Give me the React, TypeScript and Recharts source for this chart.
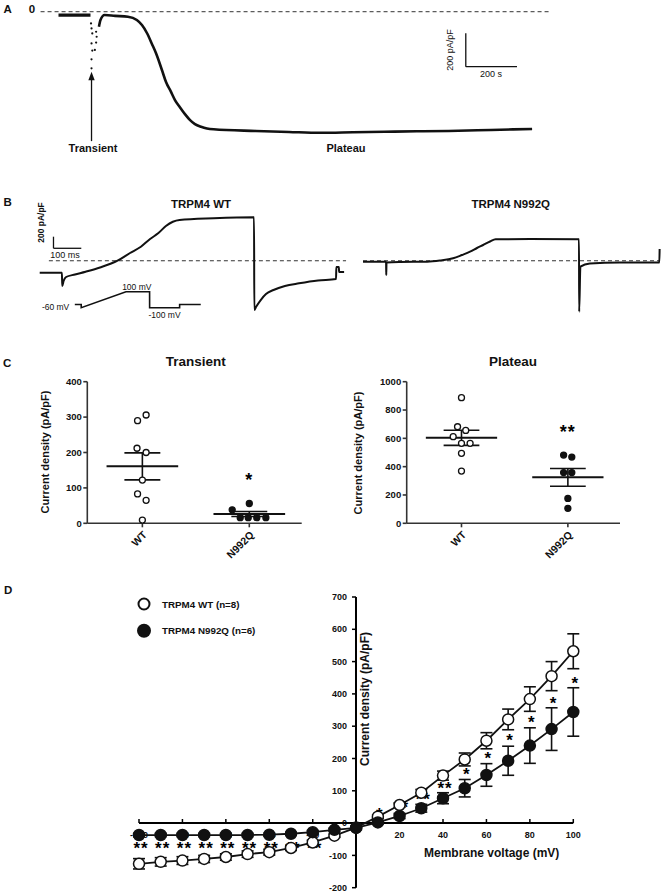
import React from "react";
import {
  ComposedChart,
  Line,
  Scatter,
  XAxis,
  YAxis,
  ReferenceLine,
  ErrorBar,
} from "recharts";

const FONT = "'Liberation Sans', Arial, Helvetica, sans-serif";
const INK = "#111";

// ---------- Panel A: current density (pA/pF) over time (s)
const aBaseline = [
  { t: 0, i: -20 },
  { t: 125, i: -20 },
];
const aTransientDots = [
  { t: 127, i: -70 },
  { t: 129, i: -100 },
  { t: 132, i: -130 },
  { t: 129, i: -190 },
  { t: 132, i: -233 },
  { t: 129, i: -285 },
  { t: 129, i: -339 },
  { t: 147, i: -120 },
  { t: 149, i: -150 },
  { t: 147, i: -185 },
  { t: 142, i: -229 },
];
const aTrace = [
  { t: 158, i: -90 },
  { t: 164, i: -50 },
  { t: 180, i: -20 },
  { t: 221, i: -25 },
  { t: 271, i: -30 },
  { t: 306, i: -50 },
  { t: 326, i: -80 },
  { t: 346, i: -129 },
  { t: 365, i: -193 },
  { t: 381, i: -249 },
  { t: 404, i: -349 },
  { t: 420, i: -421 },
  { t: 439, i: -479 },
  { t: 455, i: -529 },
  { t: 473, i: -569 },
  { t: 494, i: -613 },
  { t: 514, i: -649 },
  { t: 533, i: -673 },
  { t: 557, i: -689 },
  { t: 580, i: -699 },
  { t: 606, i: -704 },
  { t: 771, i: -714 },
  { t: 900, i: -720 },
  { t: 1023, i: -725 },
  { t: 1150, i: -722 },
  { t: 1274, i: -719 },
  { t: 1400, i: -716 },
  { t: 1524, i: -714 },
  { t: 1689, i: -708 },
  { t: 1850, i: -702 },
];
const aArrowTip = [{ t: 129, i: -359 }];

// ---------- Panel B: ramp currents (ms, pA/pF) and voltage protocol (ms, mV)
const bWtTrace = [
  { t: 0, i: -207 },
  { t: 80, i: -207 },
  { t: 81, i: -436 },
  { t: 86, i: -350 },
  { t: 95, i: -281 },
  { t: 127, i: -238 },
  { t: 165, i: -190 },
  { t: 217, i: -117 },
  { t: 280, i: 0 },
  { t: 325, i: 133 },
  { t: 364, i: 241 },
  { t: 397, i: 374 },
  { t: 426, i: 472 },
  { t: 454, i: 598 },
  { t: 479, i: 672 },
  { t: 503, i: 702 },
  { t: 626, i: 731 },
  { t: 771, i: 748 },
  { t: 772, i: -850 },
  { t: 778, i: -798 },
  { t: 795, i: -678 },
  { t: 814, i: -574 },
  { t: 841, i: -505 },
  { t: 882, i: -436 },
  { t: 933, i: -390 },
  { t: 1001, i: -341 },
  { t: 1066, i: -316 },
  { t: 1067, i: -109 },
  { t: 1076, i: -109 },
  { t: 1077, i: -195 },
  { t: 1095, i: -195 },
];
const bNqTrace = [
  { t: 0, i: -17 },
  { t: 83, i: -17 },
  { t: 83.6, i: -247 },
  { t: 84.5, i: -31 },
  { t: 133, i: -22 },
  { t: 231, i: -17 },
  { t: 277, i: 3 },
  { t: 324, i: 41 },
  { t: 356, i: 98 },
  { t: 385, i: 155 },
  { t: 410, i: 219 },
  { t: 432, i: 271 },
  { t: 457, i: 331 },
  { t: 477, i: 369 },
  { t: 601, i: 374 },
  { t: 777, i: 369 },
  { t: 777.5, i: -879 },
  { t: 782, i: -103 },
  { t: 816, i: -48 },
  { t: 924, i: -31 },
  { t: 1066, i: -31 },
  { t: 1067, i: 202 },
];
const bProtocol = [
  { t: 0, v: -60 },
  { t: 23, v: -60 },
  { t: 23.1, v: -100 },
  { t: 184, v: 100 },
  { t: 269, v: 100 },
  { t: 269.1, v: -100 },
  { t: 377, v: -100 },
  { t: 377.1, v: -60 },
  { t: 453, v: -60 },
];

// ---------- Panel C: scatter of individual cells
const groups = ["WT", "N992Q"];
const transientWT = [306, 290, 212, 200, 122, 83, 65, 9];
const transientWTJitter = [0.035, -0.045, -0.05, 0.035, 0, -0.045, 0.035, 0];
const transientNQ = [38, 56, 16, 16, 16, 16];
const transientNQJitter = [-0.16, 0, -0.085, -0.01, 0.07, 0.155];
const plateauWT = [887, 682, 656, 612, 565, 565, 494, 369];
const plateauWTJitter = [0, -0.037, 0.04, -0.078, 0, 0.081, 0, 0];
const plateauNQ = [482, 468, 358, 358, 176, 106];
const plateauNQJitter = [-0.04, 0.037, -0.04, 0.037, 0, 0];
const transientTicks = [0, 100, 200, 300, 400];
const plateauTicks = [0, 200, 400, 600, 800, 1000];

// ---------- Panel D: I-V relationship
const voltages = [-100, -90, -80, -70, -60, -50, -40, -30, -20, -10, 0, 10, 20, 30, 40, 50, 60, 70, 80, 90, 100];
const wtMean = [-126, -120, -116, -111, -105, -96, -90, -77, -60, -39, -14, 20, 56, 94, 147, 197, 255, 321, 384, 455, 532];
const wtSem = [16, 13, 12, 11, 10, 10, 9, 8, 7, 5, 3, 5, 7, 10, 14, 20, 25, 32, 38, 45, 54];
const nqMean = [-37, -37, -37, -37, -37, -37, -36, -33, -28, -21, -15, 2, 22, 46, 77, 108, 149, 193, 240, 291, 344];
const nqSem = [5, 5, 5, 5, 5, 5, 5, 5, 5, 5, 5, 5, 8, 12, 17, 27, 35, 45, 55, 66, 75];
const sigVoltages = [-100, -90, -80, -70, -60, -50, -40, -30, -20, 10, 20, 30, 40, 50, 60, 70, 80, 90, 100];
const sigLabels = ["**", "**", "**", "**", "**", "**", "**", "**", "**", "*", "**", "**", "**", "*", "*", "*", "*", "*", "*"];
const sigHeights = [-64, -64, -64, -64, -64, -64, -64, -64, -64, 41, 63, 87, 121, 165, 214, 270, 326, 384, 446];
const dXTicks = [-100, -80, -60, -40, -20, 0, 20, 40, 60, 80, 100];
const dYTicks = [-200, -100, 0, 100, 200, 300, 400, 500, 600, 700];

const dData = voltages.map((v, k) => ({
  v,
  wt: wtMean[k],
  wtErr: wtSem[k],
  nq: nqMean[k],
  nqErr: nqSem[k],
}));
const dSig = sigVoltages.map((v, k) => ({ v, y: sigHeights[k], label: sigLabels[k] }));

const mean = (a: number[]) => a.reduce((s, v) => s + v, 0) / a.length;
const sem = (a: number[]) => {
  const m = mean(a);
  const sd = Math.sqrt(a.reduce((s, v) => s + (v - m) ** 2, 0) / (a.length - 1));
  return sd / Math.sqrt(a.length);
};

const Dot = (r: number, open: boolean) => (p: any) =>
  <circle cx={p.cx} cy={p.cy} r={r} fill={open ? "#fff" : INK} stroke={INK} strokeWidth={1.3} />;

const StarText = (fs: number, dx = 0, spacing = 0) => (p: any) =>
  <text
    x={p.cx + dx}
    y={p.cy + 0.585 * fs}
    textAnchor="middle"
    fontSize={fs}
    fontWeight="bold"
    letterSpacing={spacing}
    fill="#000"
    stroke="none"
  >
    {p.payload.label}
  </text>;

// dots drawn by a stroke-less Line, so nothing else gets a symbol
const TinyDot = (p: any) =>
  <circle key={`d${p.index}`} cx={p.cx} cy={p.cy} r={1.1} fill={INK} stroke="none" />;
const ArrowHead = (p: any) =>
  <polygon key="ah" points={`${p.cx},${p.cy} ${p.cx - 3.2},${p.cy + 8.5} ${p.cx + 3.2},${p.cy + 8.5}`} fill={INK} />;

function Txt({ x, y, size, weight = "bold", anchor = "middle", rotate = false, children }: any) {
  return (
    <text
      x={x}
      y={y}
      fontSize={size}
      fontWeight={weight}
      textAnchor={anchor}
      fill={INK}
      dominantBaseline={rotate ? "central" : undefined}
      transform={rotate ? `rotate(-90 ${x} ${y})` : undefined}
    >
      {children}
    </text>
  );
}

function Box({ left, top, children }: any) {
  return <div style={{ position: "absolute", left, top }}>{children}</div>;
}

function PanelA() {
  return (
    <Box left={0} top={0}>
      <ComposedChart width={670} height={170} margin={{ top: 0, right: 0, bottom: 0, left: 0 }}>
        <XAxis dataKey="t" type="number" domain={[-228.5, 2388.7]} hide />
        <YAxis type="number" domain={[-947.9, 70.1]} hide />
        <ReferenceLine segment={[{ x: -70, y: 0 }, { x: 1924, y: 0 }]} stroke="#333" strokeDasharray="4 3" strokeWidth={1} />
        <Line data={aBaseline} dataKey="i" type="linear" stroke={INK} strokeWidth={3.3} dot={false} activeDot={false} isAnimationActive={false} />
        <Line data={aTrace} dataKey="i" type="monotone" stroke={INK} strokeWidth={2.6} dot={false} activeDot={false} isAnimationActive={false} />
        <Line data={aTransientDots} dataKey="i" type="linear" stroke="none" dot={TinyDot} activeDot={false} isAnimationActive={false} />
        <ReferenceLine segment={[{ x: 129, y: -775 }, { x: 129, y: -395 }]} stroke={INK} strokeWidth={1.3} />
        <Line data={aArrowTip} dataKey="i" stroke="none" dot={ArrowHead} activeDot={false} isAnimationActive={false} />
        <ReferenceLine segment={[{ x: 1591, y: -129 }, { x: 1591, y: -329 }]} stroke={INK} strokeWidth={1.3} />
        <ReferenceLine segment={[{ x: 1591, y: -329 }, { x: 1791, y: -329 }]} stroke={INK} strokeWidth={1.3} />
      </ComposedChart>
    </Box>
  );
}

function TraceChart({ left, width, xDomain, data, zeroEnd, scaleBar }: any) {
  return (
    <Box left={left} top={200}>
      <ComposedChart width={width} height={130} margin={{ top: 0, right: 0, bottom: 0, left: 0 }}>
        <XAxis dataKey="t" type="number" domain={xDomain} hide />
        <YAxis type="number" domain={[-1194.8, 1046.6]} hide />
        <ReferenceLine segment={[{ x: zeroEnd[0], y: 0 }, { x: zeroEnd[1], y: 0 }]} stroke="#333" strokeDasharray="4 3" strokeWidth={1.1} />
        <Line data={data} dataKey="i" type="monotone" stroke={INK} strokeWidth={2} dot={false} activeDot={false} isAnimationActive={false} />
        {scaleBar && (
          <ReferenceLine segment={[{ x: 49.6, y: 414 }, { x: 49.6, y: 214 }]} stroke={INK} strokeWidth={1.3} />
        )}
        {scaleBar && (
          <ReferenceLine segment={[{ x: 49.6, y: 214 }, { x: 149.6, y: 214 }]} stroke={INK} strokeWidth={1.3} />
        )}
      </ComposedChart>
    </Box>
  );
}

function Protocol() {
  return (
    <Box left={70} top={285}>
      <ComposedChart width={140} height={30} margin={{ top: 0, right: 0, bottom: 0, left: 0 }}>
        <XAxis dataKey="t" type="number" domain={[-17.3, 486.3]} hide />
        <YAxis type="number" domain={[-191.25, 183.75]} hide />
        <Line data={bProtocol} dataKey="v" type="linear" stroke={INK} strokeWidth={1.6} dot={false} activeDot={false} isAnimationActive={false} />
      </ComposedChart>
    </Box>
  );
}

function DotPlot({ left, width, yAxisWidth, rightMargin, yMax, ticks, wt, wtJ, nq, nqJ, sig }: any) {
  const wtPts = wt.map((y: number, k: number) => ({ x: 1 + wtJ[k], y }));
  const nqPts = nq.map((y: number, k: number) => ({ x: 2 + nqJ[k], y }));
  const bars = [wt, nq].map((vals: number[], k: number) => ({ c: k + 1, m: mean(vals), s: sem(vals) }));
  return (
    <Box left={left} top={370}>
      <ComposedChart width={width} height={200} margin={{ top: 11.7, right: rightMargin, bottom: 0, left: 0 }}>
        <XAxis
          dataKey="x"
          type="number"
          domain={[0.485, 2.49]}
          ticks={[1, 2]}
          tickFormatter={(v: number) => groups[v - 1]}
          height={46.7}
          angle={-45}
          tick={{ fontSize: 10.5, fontWeight: "bold", fill: INK, textAnchor: "end" }}
          tickSize={4}
          tickMargin={3}
          stroke="#333"
          strokeWidth={1.6}
        />
        <YAxis
          type="number"
          domain={[0, yMax]}
          ticks={ticks}
          width={yAxisWidth}
          tick={{ fontSize: 9.5, fontWeight: "bold", fill: INK }}
          tickSize={4}
          tickMargin={1.5}
          stroke="#333"
          strokeWidth={1.6}
        />
        {bars.map((b: any) => (
          <ReferenceLine key={`m${b.c}`} segment={[{ x: b.c - 0.335, y: b.m }, { x: b.c + 0.335, y: b.m }]} stroke={INK} strokeWidth={2} />
        ))}
        {bars.map((b: any) => (
          <ReferenceLine key={`s${b.c}`} segment={[{ x: b.c, y: b.m - b.s }, { x: b.c, y: b.m + b.s }]} stroke={INK} strokeWidth={1.6} />
        ))}
        {bars.map((b: any) => (
          <ReferenceLine key={`u${b.c}`} segment={[{ x: b.c - 0.168, y: b.m + b.s }, { x: b.c + 0.168, y: b.m + b.s }]} stroke={INK} strokeWidth={1.6} />
        ))}
        {bars.map((b: any) => (
          <ReferenceLine key={`l${b.c}`} segment={[{ x: b.c - 0.168, y: b.m - b.s }, { x: b.c + 0.168, y: b.m - b.s }]} stroke={INK} strokeWidth={1.6} />
        ))}
        <Scatter data={wtPts} dataKey="y" shape={Dot(3, true)} isAnimationActive={false} />
        <Scatter data={nqPts} dataKey="y" shape={Dot(3, false)} isAnimationActive={false} />
        <Scatter data={sig} dataKey="y" shape={StarText(18, 0, 1)} isAnimationActive={false} />
      </ComposedChart>
    </Box>
  );
}

const D_AXIS_Y = 10;
const DXTick = (p: any) => (
  <g>
    <line x1={p.x} x2={p.x} y1={D_AXIS_Y} y2={D_AXIS_Y - 4} stroke="#000" strokeWidth={1.5} />
    {p.payload.value !== 0 && (
      <text x={p.x} y={D_AXIS_Y + 14.6} textAnchor="middle" fontSize={9} fontWeight="bold" fill={INK}>
        {p.payload.value}
      </text>
    )}
  </g>
);

function PanelD() {
  return (
    <>
      {/* y axis through 0 mV */}
      <Box left={316} top={591.6}>
        <ComposedChart data={dData} width={50} height={300.7} margin={{ top: 5, right: 10, bottom: 5, left: 0 }}>
          <XAxis dataKey="v" type="number" domain={[-100, 100]} hide />
          <YAxis
            type="number"
            domain={[-200, 700]}
            ticks={dYTicks}
            width={40}
            tick={{ fontSize: 9, fontWeight: "bold", fill: INK }}
            tickSize={4}
            tickMargin={5}
            axisLine={{ stroke: "#000", strokeWidth: 2 }}
            tickLine={{ stroke: "#000", strokeWidth: 1.5 }}
          />
          <Line dataKey="wt" stroke="none" dot={false} activeDot={false} isAnimationActive={false} />
        </ComposedChart>
      </Box>
      {/* x axis through 0 pA/pF */}
      <Box left={119} top={812.7}>
        <ComposedChart data={dData} width={474.3} height={30} margin={{ top: 0, right: 20, bottom: 0, left: 20 }}>
          <XAxis
            dataKey="v"
            type="number"
            domain={[-100, 100]}
            ticks={dXTicks}
            height={20}
            tickLine={false}
            tick={DXTick}
            axisLine={{ stroke: "#000", strokeWidth: 2 }}
          />
          <YAxis type="number" domain={[-200, 700]} hide />
          <Line dataKey="wt" stroke="none" dot={false} activeDot={false} isAnimationActive={false} />
        </ComposedChart>
      </Box>
      {/* data */}
      <Box left={119} top={586.6}>
        <ComposedChart data={dData} width={474.3} height={310.7} margin={{ top: 10, right: 20, bottom: 10, left: 20 }}>
          <XAxis dataKey="v" type="number" domain={[-100, 100]} hide />
          <YAxis type="number" domain={[-200, 700]} hide />
          <Line dataKey="wt" type="linear" stroke={INK} strokeWidth={1.8} dot={{ r: 5.5, fill: "#fff", stroke: INK, strokeWidth: 1.5 }} activeDot={false} isAnimationActive={false}>
            <ErrorBar dataKey="wtErr" width={6} stroke={INK} strokeWidth={1.6} direction="y" />
          </Line>
          <Line dataKey="nq" type="linear" stroke={INK} strokeWidth={1.8} dot={{ r: 5.5, fill: INK, stroke: INK, strokeWidth: 1.5 }} activeDot={false} isAnimationActive={false}>
            <ErrorBar dataKey="nqErr" width={6} stroke={INK} strokeWidth={1.6} direction="y" />
          </Line>
          <Scatter data={dSig} dataKey="y" shape={StarText(17, 2, 1)} isAnimationActive={false} />
        </ComposedChart>
      </Box>
    </>
  );
}

export default function App() {
  return (
    <div
      style={{
        position: "absolute",
        left: 0,
        top: 0,
        width: 670,
        height: 893,
        background: "#fff",
        fontFamily: FONT,
        overflow: "hidden",
      }}
    >
      <PanelA />
      <TraceChart left={0} width={350} xDomain={[-142.8, 1116.2]} data={bWtTrace} zeroEnd={[33, 1102]} scaleBar />
      <TraceChart left={350} width={320} xDomain={[-46.8, 1104.3]} data={bNqTrace} zeroEnd={[0, 1068]} />
      <Protocol />
      <DotPlot
        left={20}
        width={295}
        yAxisWidth={67.3}
        rightMargin={13.3}
        yMax={400}
        ticks={transientTicks}
        wt={transientWT}
        wtJ={transientWTJitter}
        nq={transientNQ}
        nqJ={transientNQJitter}
        sig={[{ x: 2, y: 134, label: "*" }]}
      />
      <DotPlot
        left={340}
        width={290}
        yAxisWidth={66.7}
        rightMargin={10}
        yMax={1000}
        ticks={plateauTicks}
        wt={plateauWT}
        wtJ={plateauWTJitter}
        nq={plateauNQ}
        nqJ={plateauNQJitter}
        sig={[{ x: 2, y: 680, label: "**" }]}
      />
      <PanelD />
      <svg width={670} height={893} style={{ position: "absolute", left: 0, top: 0, pointerEvents: "none" }}>
        {/* panel letters */}
        <Txt x={3.4} y={12.5} size={11.5} anchor="start">A</Txt>
        <Txt x={3.4} y={206} size={11.5} anchor="start">B</Txt>
        <Txt x={3} y={366.7} size={11.5} anchor="start">C</Txt>
        <Txt x={4} y={593.5} size={11.5} anchor="start">D</Txt>
        {/* A */}
        <Txt x={32} y={13.3} size={11.5}>0</Txt>
        <Txt x={93} y={152} size={11}>Transient</Txt>
        <Txt x={346} y={152} size={11}>Plateau</Txt>
        <Txt x={450} y={50} size={9} weight="normal" rotate>200 pA/pF</Txt>
        <Txt x={491} y={76.7} size={9} weight="normal">200 s</Txt>
        {/* B */}
        <Txt x={201} y={208.3} size={11.5}>TRPM4 WT</Txt>
        <Txt x={510.7} y={208.3} size={11.5}>TRPM4 N992Q</Txt>
        <Txt x={40.6} y={222.5} size={8.5} rotate>200 pA/pF</Txt>
        <Txt x={65} y={258.3} size={9} weight="normal">100 ms</Txt>
        <Txt x={55.6} y={310.3} size={8.5} weight="normal">-60 mV</Txt>
        <Txt x={136.8} y={289.7} size={8.5} weight="normal">100 mV</Txt>
        <Txt x={164.5} y={318} size={8.5} weight="normal">-100 mV</Txt>
        {/* C */}
        <Txt x={195.7} y={365.7} size={13.5}>Transient</Txt>
        <Txt x={513} y={365.7} size={13.5}>Plateau</Txt>
        <Txt x={45} y={452} size={11} rotate>Current density (pA/pF)</Txt>
        <Txt x={358} y={453} size={11} rotate>Current density (pA/pF)</Txt>
        {/* D */}
        <circle cx={144} cy={604} r={5.5} fill="#fff" stroke={INK} strokeWidth={2} />
        <circle cx={144} cy={630.7} r={7} fill={INK} />
        <Txt x={162} y={607.5} size={9.8} anchor="start">TRPM4 WT (n=8)</Txt>
        <Txt x={162} y={634.2} size={9.8} anchor="start">TRPM4 N992Q (n=6)</Txt>
        <Txt x={491.7} y={857} size={12}>Membrane voltage (mV)</Txt>
        <Txt x={365} y={699} size={12} rotate>Current density (pA/pF)</Txt>
      </svg>
    </div>
  );
}
